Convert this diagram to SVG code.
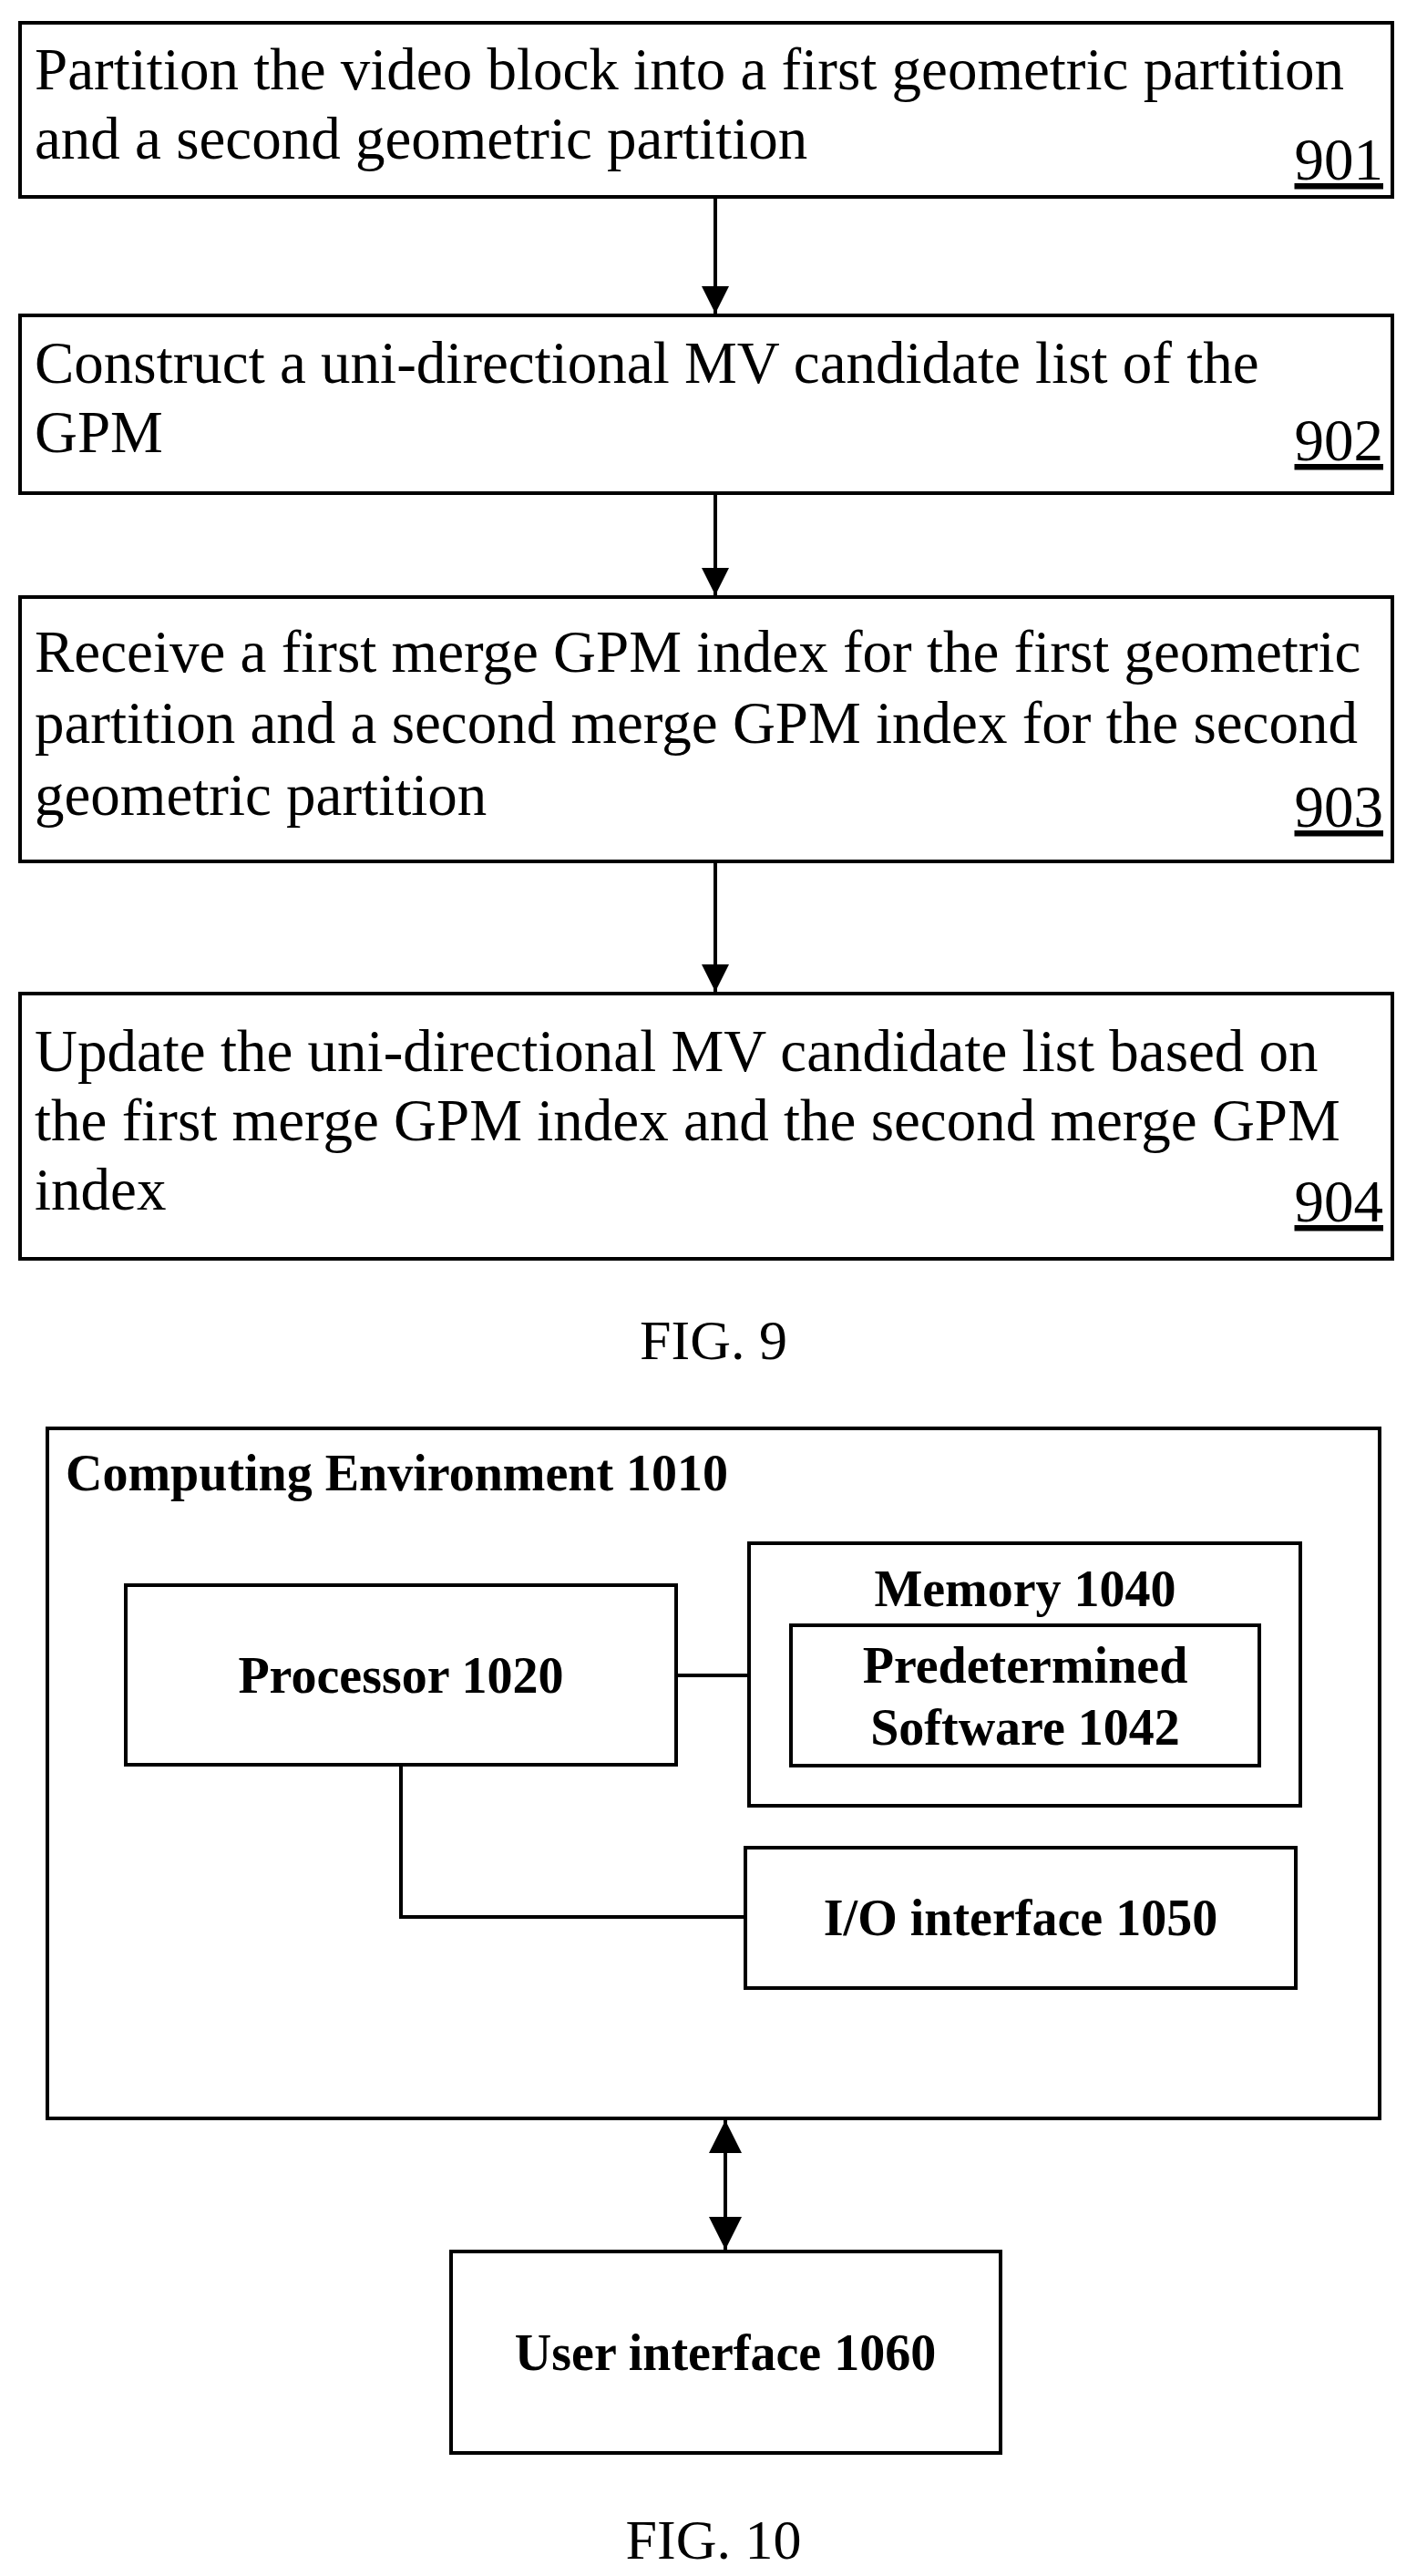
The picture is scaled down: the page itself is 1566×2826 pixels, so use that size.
<svg xmlns="http://www.w3.org/2000/svg" width="1566" height="2826" viewBox="0 0 1566 2826">
<style>
.b{fill:#fff;stroke:#000;stroke-width:4}
.t{font-family:"Liberation Serif",serif;font-size:65px;fill:#000}
.n{font-family:"Liberation Serif",serif;font-size:65px;fill:#000;text-anchor:end;text-decoration:underline}
.bd{font-family:"Liberation Serif",serif;font-size:56px;font-weight:bold;fill:#000;text-anchor:middle}
.f{font-family:"Liberation Serif",serif;font-size:62px;fill:#000;text-anchor:middle}
.c{fill:none;stroke:#000;stroke-width:4}
</style>
<defs>
<marker id="a2" viewBox="0 0 10 10" refX="10" refY="5" markerWidth="32" markerHeight="30" markerUnits="userSpaceOnUse" orient="auto-start-reverse"><path d="M0,0L10,5L0,10z"/></marker>
<marker id="a3" viewBox="0 0 10 10" refX="10" refY="5" markerWidth="48" markerHeight="36" markerUnits="userSpaceOnUse" orient="auto-start-reverse"><path d="M0,0L10,5L0,10z"/></marker>
</defs>
<g id="n901"><rect class="b" x="22" y="25" width="1506" height="191"/>
<text class="t" x="38" y="98">Partition the video block into a first geometric partition</text>
<text class="t" x="38" y="174">and a second geometric partition</text>
<text class="n" x="1518" y="197">901</text></g>
<g id="n902"><rect class="b" x="22" y="346" width="1506" height="195"/>
<text class="t" x="38" y="420">Construct a uni-directional MV candidate list of the</text>
<text class="t" x="38" y="496">GPM</text>
<text class="n" x="1518" y="505">902</text></g>
<g id="n903"><rect class="b" x="22" y="655" width="1506" height="290"/>
<text class="t" x="38" y="737">Receive a first merge GPM index for the first geometric</text>
<text class="t" x="38" y="815">partition and a second merge GPM index for the second</text>
<text class="t" x="38" y="894">geometric partition</text>
<text class="n" x="1518" y="907">903</text></g>
<g id="n904"><rect class="b" x="22" y="1090" width="1506" height="291"/>
<text class="t" x="38" y="1175">Update the uni-directional MV candidate list based on</text>
<text class="t" x="38" y="1251">the first merge GPM index and the second merge GPM</text>
<text class="t" x="38" y="1327">index</text>
<text class="n" x="1518" y="1340">904</text></g>
<text class="f" x="783" y="1491">FIG. 9</text>
<g id="env"><rect class="b" x="52" y="1567" width="1462" height="757"/>
<text class="bd" x="72" y="1635" style="text-anchor:start">Computing Environment 1010</text></g>
<g id="proc"><rect class="b" x="138" y="1739" width="604" height="197"/><text class="bd" x="440" y="1857">Processor 1020</text></g>
<g id="mem"><rect class="b" x="822" y="1693" width="605" height="288"/><text class="bd" x="1125" y="1762">Memory 1040</text></g>
<g id="sw"><rect class="b" x="868" y="1783" width="514" height="154"/><text class="bd" x="1125" y="1846">Predetermined</text><text class="bd" x="1125" y="1914">Software 1042</text></g>
<g id="io"><rect class="b" x="818" y="2027" width="604" height="154"/><text class="bd" x="1120" y="2123">I/O interface 1050</text></g>
<g id="ui"><rect class="b" x="495" y="2470" width="603" height="221"/><text class="bd" x="796" y="2600">User interface 1060</text></g>
<text class="f" x="783" y="2807">FIG. 10</text>
<g id="connectors">
<line class="c" x1="785" y1="216" x2="785" y2="344" marker-end="url(#a2)"/>
<line class="c" x1="785" y1="541" x2="785" y2="653" marker-end="url(#a2)"/>
<line class="c" x1="785" y1="945" x2="785" y2="1088" marker-end="url(#a2)"/>
<line class="c" x1="742" y1="1838" x2="822" y2="1838"/>
<polyline class="c" points="440,1936 440,2103 818,2103"/>
<line class="c" x1="796" y1="2326" x2="796" y2="2468" stroke-width="6" marker-start="url(#a3)" marker-end="url(#a3)"/>
</g>
</svg>
